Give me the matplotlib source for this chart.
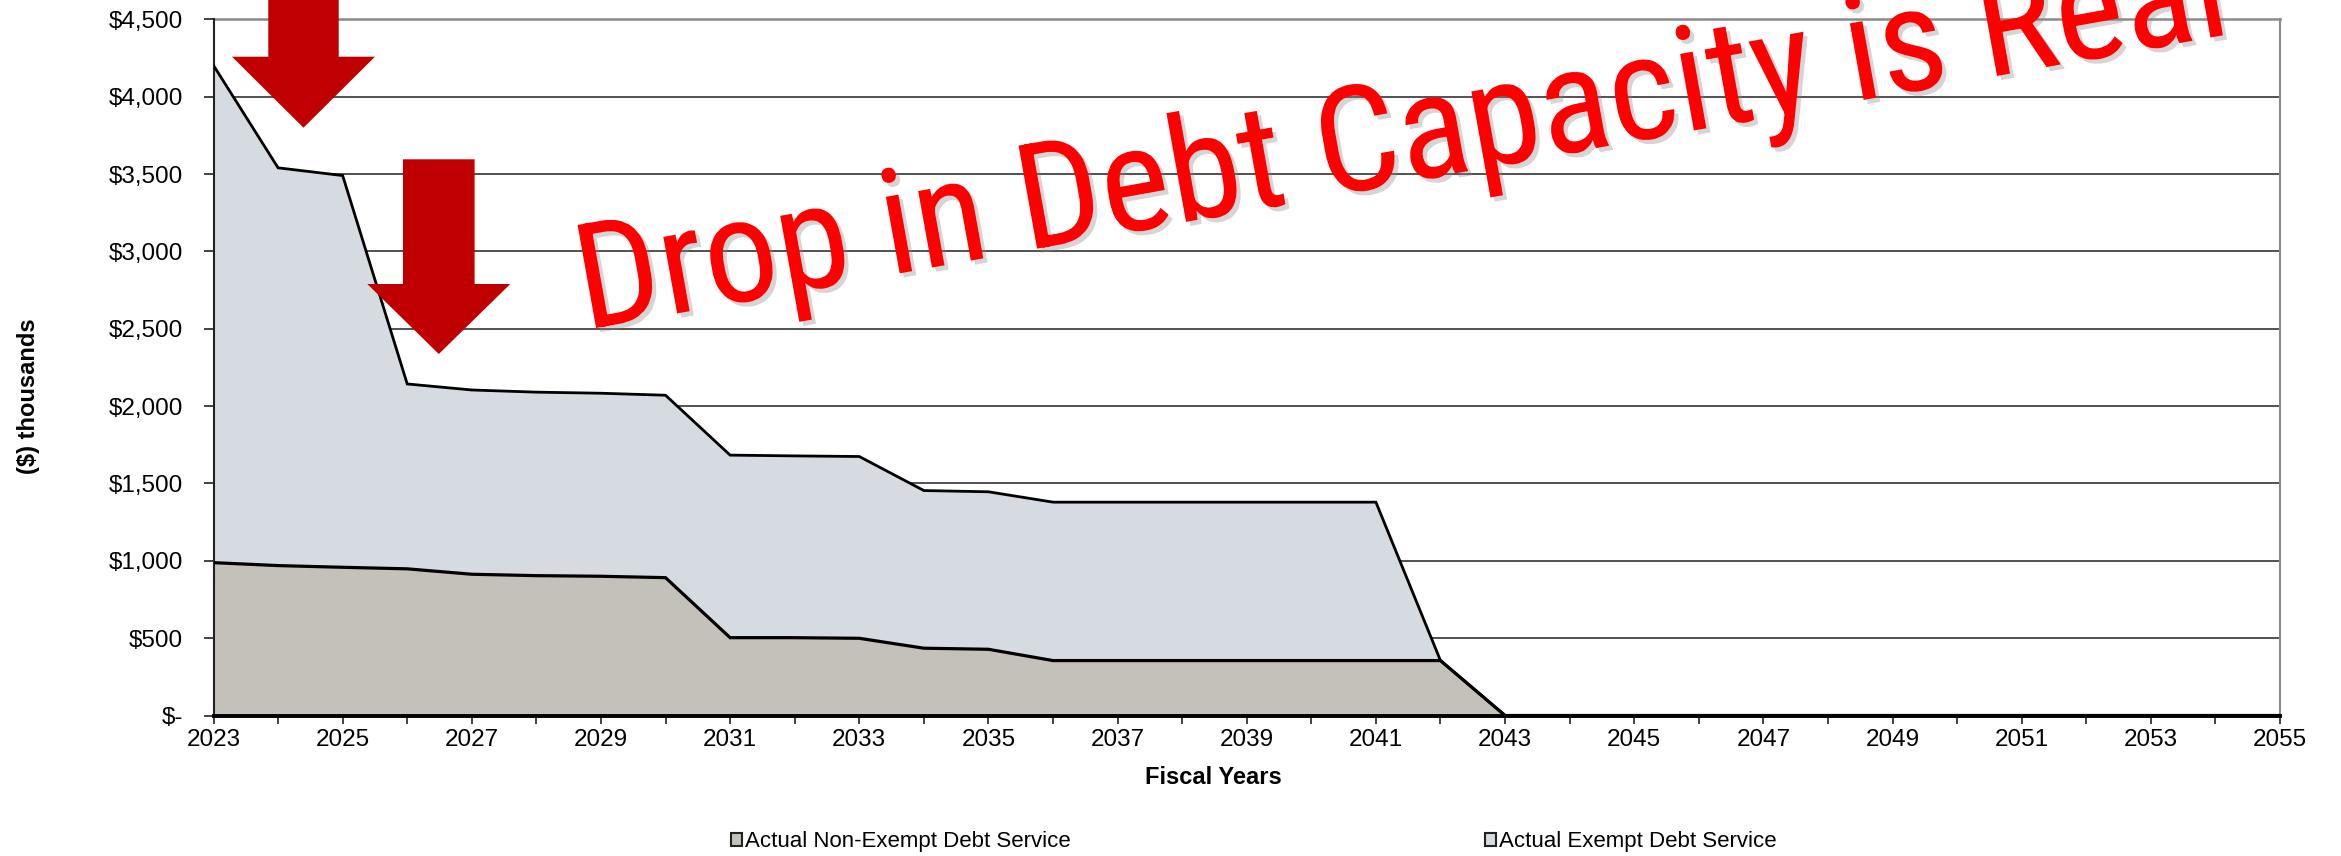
import matplotlib
matplotlib.use("Agg")
import matplotlib.pyplot as plt
import matplotlib.patches as mpatches
import matplotlib.patheffects as pe
import matplotlib.transforms as mtransforms
from matplotlib import font_manager
from matplotlib.ticker import FixedLocator, FuncFormatter
import numpy as np

plt.rcParams["font.family"] = ["Liberation Sans", "DejaVu Sans"]

# fiscal years and debt service, $ thousands
years = list(range(2023, 2056))
non_exempt = [988, 969, 958, 948, 913, 904, 900, 891,
              503, 503, 499, 435, 428,
              355, 355, 355, 355, 355, 355, 355] + [0] * 13
exempt = [3214, 2571, 2532, 1195, 1191, 1186, 1183, 1179,
          1180, 1175, 1175, 1019, 1018,
          1024, 1024, 1024, 1024, 1024, 1024, 0] + [0] * 13

y_ticks = [0, 500, 1000, 1500, 2000, 2500, 3000, 3500, 4000, 4500]
y_labels = ["$-", "$500", "$1,000", "$1,500", "$2,000", "$2,500",
            "$3,000", "$3,500", "$4,000", "$4,500"]
x_label_years = list(range(2023, 2056, 2))
series_names = ["Actual Non-Exempt Debt Service", "Actual Exempt Debt Service"]
series_colors = ["#C4C0BA", "#D6DBE2"]
headline = "Drop in Debt Capacity is Real"

# the banner wants a narrow sans; take the first one that is installed
installed = {f.name for f in font_manager.fontManager.ttflist}
narrow_choices = ["Liberation Sans Narrow", "Arial Narrow", "Nimbus Sans Narrow",
                  "Roboto Condensed", "Noto Sans Condensed", "Open Sans Condensed",
                  "DejaVu Sans Condensed"]
banner_font = next((n for n in narrow_choices if n in installed), None)
banner_stretch = "normal"
if banner_font is None:
    condensed = [f for f in font_manager.fontManager.ttflist
                 if f.stretch in ("condensed", "semi-condensed")
                 and f.name in ("Roboto", "Noto Sans", "Open Sans", "DejaVu Sans")
                 and f.style == "normal"]
    if condensed:
        banner_font = condensed[0].name
        banner_stretch = condensed[0].stretch
    else:
        banner_font = "Liberation Sans"

W, H = 2341, 856
fig = plt.figure(figsize=(W / 100, H / 100), dpi=100)
ax = fig.add_axes([213.5 / W, 1 - 715.5 / H, (2280 - 213.5) / W, (715.5 - 19.3) / H])

x = np.array(years)
lower = np.array(non_exempt)
total = lower + np.array(exempt)

ax.fill_between(x, 0, lower, color=series_colors[0], lw=0, zorder=2)
ax.fill_between(x, lower, total, color=series_colors[1], lw=0, zorder=2)
ax.plot(x, lower, color="black", lw=2.3, zorder=3, solid_joinstyle="miter")
ax.plot(x, total, color="black", lw=2.0, zorder=3, solid_joinstyle="miter")

ax.set_xlim(2023, 2055)
ax.set_ylim(0, 4500)

ax.yaxis.set_major_locator(FixedLocator(y_ticks))
ax.yaxis.set_major_formatter(FuncFormatter(lambda v, p: y_labels[y_ticks.index(int(round(v)))]))
ax.xaxis.set_major_locator(FixedLocator(x_label_years))
ax.xaxis.set_minor_locator(FixedLocator(years))
ax.tick_params(axis="both", which="both", direction="out", colors="#222222",
               labelcolor="black", labelsize=17.5)
ax.tick_params(axis="y", length=7, width=1.2, pad=15)
ax.tick_params(axis="x", which="both", length=6, width=1.2, pad=4)

ax.grid(axis="y", color="#333333", lw=1.2, zorder=1)
ax.set_axisbelow(True)
ax.spines["top"].set_visible(False)
ax.spines["right"].set_color("#8a8a8a")
ax.spines["right"].set_linewidth(1.5)
ax.spines["left"].set_color("#222222")
ax.spines["left"].set_linewidth(1.5)
ax.spines["bottom"].set_color("black")
ax.spines["bottom"].set_linewidth(2.8)
ax.spines["bottom"].set_zorder(4)
ax.axhline(4500, color="#8a8a8a", lw=1.8, clip_on=False, zorder=1)

fig.text(0.012, 0.537, "($) thousands", rotation=90, ha="center", va="center",
         fontsize=17, fontweight="bold")
fig.text(1213 / W, 1 - 778 / H, "Fiscal Years", ha="center", va="center",
         fontsize=17, fontweight="bold")

handles = [mpatches.Patch(facecolor=c, edgecolor="#222222", lw=1.5) for c in series_colors]
fig.legend(handles, series_names, loc="center left", bbox_to_anchor=(731 / W, 1 - 842 / H),
           ncol=2, frameon=False, fontsize=16, handlelength=0.5, handleheight=0.5,
           handletextpad=0.15, columnspacing=18.6, borderpad=0, borderaxespad=0)

# block arrows, drawn in pixel coordinates measured from the top-left corner
px = mtransforms.Affine2D().scale(1 / W, -1 / H).translate(0, 1) + fig.transFigure


def block_arrow(cx, top, base, tip, shaft_half, head_half):
    pts = [(cx - shaft_half, top), (cx + shaft_half, top), (cx + shaft_half, base),
           (cx + head_half, base), (cx, tip), (cx - head_half, base), (cx - shaft_half, base)]
    fig.patches.append(mpatches.Polygon(pts, closed=True, facecolor="#C00000",
                                        edgecolor="none", transform=px, zorder=5))


block_arrow(303.5, -20, 56.7, 127.7, 35.2, 71.5)
block_arrow(438.8, 159.3, 284.0, 354.0, 35.8, 71.5)

fig.text(585 / W, 1 - 330 / H, headline, rotation=10.2, rotation_mode="anchor",
         ha="left", va="baseline", color="#FF0000", fontsize=106,
         family=[banner_font, "Liberation Sans"], fontstretch=banner_stretch,
         path_effects=[pe.withSimplePatchShadow(offset=(3, -3), shadow_rgbFace="#888888", alpha=0.35)],
         zorder=6)

fig.savefig("out.png", dpi=100)
